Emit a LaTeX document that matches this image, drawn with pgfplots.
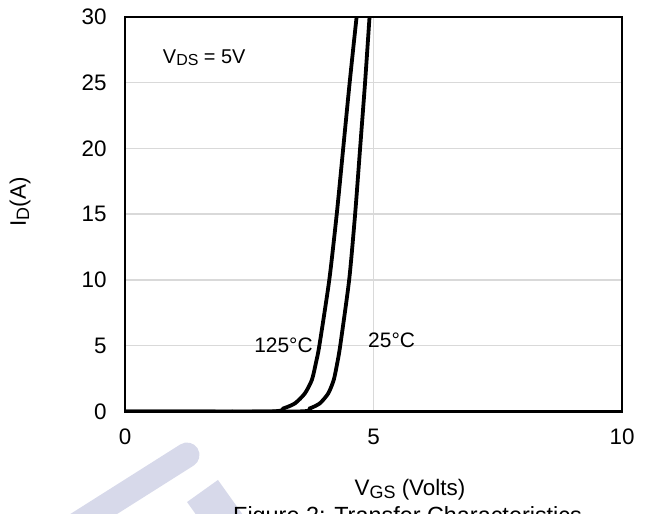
\documentclass[border=0pt]{standalone}
\usepackage{fontspec}
\setmainfont{Liberation Sans}
\usepackage{pgfplots}
\pgfplotsset{compat=1.18}
\definecolor{gridgray}{HTML}{D9D9D9}
\definecolor{wmark}{HTML}{D7D9EA}
% subscript as in the datasheet: 80% size, dropped a little
\newcommand\sub[1]{\raisebox{-0.14em}{\scalebox{0.8}{#1}}}

\begin{document}
\begin{tikzpicture}[x=1bp,y=1bp]
\useasboundingbox (0,0) rectangle (650,514);
% faint watermark strokes, bottom left
\draw[wmark, line width=25bp, line cap=round] (187,59) -- (70,-15);
\draw[wmark, line width=38bp, line cap=butt] (202.5,23) -- (232.5,-19);

\begin{axis}[
    at={(125bp,102.5bp)}, anchor=south west,
    width=497bp, height=394.5bp, scale only axis,
    xmin=0, xmax=10, ymin=0, ymax=30,
    xtick={0,5,10}, ytick={0,5,...,30},
    major tick length=0,
    xmajorgrids, ymajorgrids,
    grid style={gridgray, line width=1.5bp},
    axis line style={black, line width=2.5bp},
    /pgf/number format/assume math mode=true,
    tick label style={font=\fontsize{22.5}{26}\selectfont},
    yticklabel style={xshift=-15bp},
    xticklabel style={yshift=-14bp},
    xlabel={V\sub{GS} (Volts)},
    xlabel style={at={(axis description cs:0.5734,0)}, anchor=base,
        yshift=-84bp, font=\fontsize{22.5}{26}\selectfont},
    ylabel={I\sub{D}(A)},
    ylabel style={at={(axis description cs:-0.211,0.531)}, anchor=center,
        font=\fontsize{22.5}{26}\selectfont},
]
% 125 C
\addplot[black, line width=3.8bp, smooth, tension=0.4] coordinates {
    (0,0) (2.9,0) (3.19,0.24) (3.42,0.62) (3.62,1.38) (3.76,2.4)
    (3.84,3.67) (3.91,5) (4.11,10) (4.26,15) (4.39,20)
    (4.52,25) (4.66,30) (4.7,31)
};
% 25 C
\addplot[black, line width=3.8bp, smooth, tension=0.4] coordinates {
    (0,0) (3.45,0) (3.72,0.24) (3.92,0.62) (4.09,1.38) (4.20,2.4)
    (4.27,3.67) (4.33,5) (4.51,10) (4.63,15) (4.73,20)
    (4.83,25) (4.92,30) (4.94,31)
};
\node[anchor=base west, inner sep=0, font=\fontsize{20}{24}\selectfont]
    at (axis cs:0.76,26.5) {V\sub{DS} = 5V};
\node[anchor=base east, inner sep=0, font=\fontsize{21}{24}\selectfont]
    at (axis cs:3.78,4.45) {125°C};
\node[anchor=base west, inner sep=0, font=\fontsize{21}{24}\selectfont]
    at (axis cs:4.89,4.83) {25°C};
\end{axis}

\node[anchor=base west, inner sep=0, font=\fontsize{23.5}{28}\selectfont]
    at (233,-10) {Figure 2: Transfer Characteristics};
\end{tikzpicture}
\end{document}
